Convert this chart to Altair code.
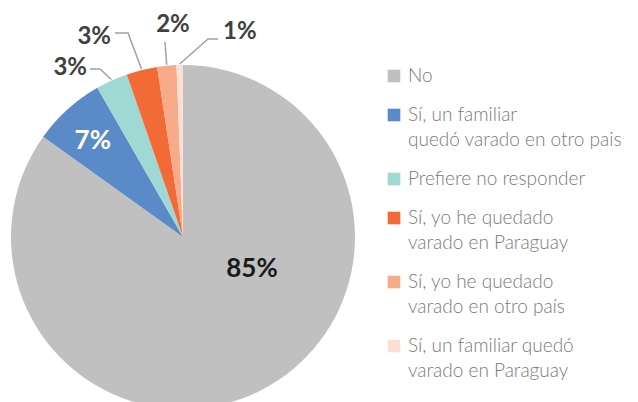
import math
import altair as alt
import pandas as pd

# ---- data ----
categories = [
    "No",
    "Sí, un familiar\nquedó varado en otro pais",
    "Prefiere no responder",
    "Sí, yo he quedado\nvarado en Paraguay",
    "Sí, yo he quedado\nvarado en otro país",
    "Sí, un familiar quedó\nvarado en Paraguay",
]
values = [84.9, 6.8, 3.0, 2.9, 1.8, 0.6]
labels = ["85%", "7%", "3%", "3%", "2%", "1%"]
colors = ["#BFC0BF", "#5B8AC8", "#A0D8D4", "#F26B36", "#F7AB8A", "#FDE0D5"]

# ---- layout (pixels inside the plot area) ----
W, H = 622, 386
CX, CY, R = 175, 229, 172
FONT = "Lato"

total = sum(values)
cum = 0.0
mids = []
for v in values:
    mids.append((cum + v / 2) / total * 2 * math.pi)
    cum += v

pie_df = pd.DataFrame({"cat": categories, "value": values, "idx": list(range(len(values)))})

color_scale = alt.Scale(domain=categories, range=colors)

pie = alt.Chart(pie_df).mark_arc(outerRadius=R, stroke=None).encode(
    theta=alt.Theta("value:Q", stack=True),
    order=alt.Order("idx:Q"),
    color=alt.Color("cat:N", scale=color_scale, legend=None),
    x=alt.value(CX),
    y=alt.value(CY),
)


def polar(theta, r):
    return CX + r * math.sin(theta), CY - r * math.cos(theta)


# inside labels
inner_rows = []
inner_rows.append({"t": labels[0], "x": 244, "y": 261, "c": "#1a1a1a"})
x7, y7 = polar(mids[1], 133)
inner_rows.append({"t": labels[1], "x": x7 - 1, "y": y7 + 3, "c": "white"})
inner = alt.Chart(pd.DataFrame(inner_rows)).mark_text(
    font=FONT, fontWeight="bold", fontSize=26, align="center", baseline="middle"
).encode(
    x=alt.X("x:Q", scale=None),
    y=alt.Y("y:Q", scale=None),
    text="t:N",
    color=alt.Color("c:N", scale=None),
)

# leader lines: start at slice edge (from data), then elbow/end points
callouts = {
    2: [(92, 61), (82, 61)],
    3: [(120, 25), (107, 25)],
    4: [(157, 34)],
    5: [(200, 31), (210, 31)],
}
text_pos = {
    2: (79, 60, "right"),
    3: (103, 29, "right"),
    4: (165, 17, "center"),
    5: (215, 24, "left"),
}
line_rows = []
for i, pts in callouts.items():
    sx, sy = polar(mids[i], R + 1)
    line_rows.append({"s": i, "o": 0, "x": sx, "y": sy})
    for k, (px, py) in enumerate(pts):
        line_rows.append({"s": i, "o": k + 1, "x": px, "y": py})
leaders = alt.Chart(pd.DataFrame(line_rows)).mark_line(
    color="#A0A0A0", strokeWidth=1.5
).encode(
    x=alt.X("x:Q", scale=None),
    y=alt.Y("y:Q", scale=None),
    detail="s:N",
    order="o:Q",
)

outer_frames = []
for i, (tx, ty, al) in text_pos.items():
    outer_frames.append(
        alt.Chart(pd.DataFrame([{"t": labels[i], "x": tx, "y": ty}])).mark_text(
            font=FONT, fontWeight="bold", fontSize=24, align=al, baseline="middle", color="#404040"
        ).encode(x=alt.X("x:Q", scale=None), y=alt.Y("y:Q", scale=None), text="t:N")
    )

# manual legend
LX_SYM, LX_TXT, LY0, LH, GAP = 386, 400, 68, 25, 14
leg_rows = []
y = LY0
for i, c in enumerate(categories):
    n = len(c.split("\n"))
    leg_rows.append({"cat": c, "y": y, "idx": i})
    y += n * LH + GAP
leg_df = pd.DataFrame(leg_rows)
leg_sym = alt.Chart(leg_df).mark_square(size=160, opacity=1).encode(
    x=alt.value(LX_SYM),
    y=alt.Y("y:Q", scale=None),
    color=alt.Color("cat:N", scale=color_scale, legend=None),
)
leg_txt = alt.Chart(leg_df).mark_text(
    font=FONT, fontSize=19, fontWeight=300, align="left", baseline="middle", color="#7A7A7A",
    lineBreak="\n", lineHeight=LH,
).encode(
    x=alt.value(LX_TXT),
    y=alt.Y("y:Q", scale=None),
    text="cat:N",
)

chart = alt.layer(pie, inner, leaders, *outer_frames, leg_sym, leg_txt).properties(
    width=W, height=H, padding=0
).configure_view(stroke=None)

chart.save("out.html", embed_options={"renderer": "svg", "actions": False})
